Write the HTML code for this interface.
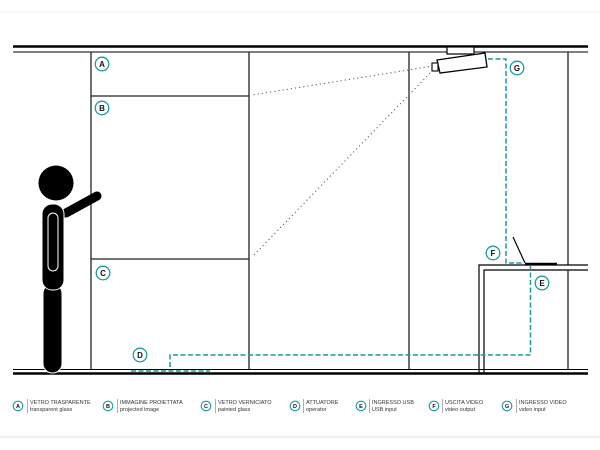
<!DOCTYPE html>
<html><head><meta charset="utf-8"><style>
html,body{margin:0;padding:0;background:#fff;}
svg{display:block;}
text{font-family:"Liberation Sans",sans-serif;}
</style></head><body>
<svg width="600" height="450" viewBox="0 0 600 450" xmlns="http://www.w3.org/2000/svg">
<rect width="600" height="450" fill="#fff"/>
<line x1="0" y1="12" x2="600" y2="12" stroke="#eee" stroke-width="1"/>
<line x1="0" y1="437" x2="600" y2="437" stroke="#ddd" stroke-width="1"/>
<!-- ceiling -->
<line x1="13" y1="46.5" x2="588" y2="46.5" stroke="#000" stroke-width="2.5"/>
<line x1="13" y1="52" x2="588" y2="52" stroke="#000" stroke-width="1"/>
<!-- floor -->
<line x1="13" y1="369.5" x2="588" y2="369.5" stroke="#000" stroke-width="1"/>
<line x1="13" y1="373.5" x2="588" y2="373.5" stroke="#000" stroke-width="2.5"/>
<!-- walls -->
<g stroke="#222" stroke-width="1.3" fill="none">
<line x1="91" y1="52" x2="91" y2="369"/>
<line x1="249" y1="52" x2="249" y2="369"/>
<line x1="409" y1="52" x2="409" y2="369"/>
<line x1="568" y1="52" x2="568" y2="265"/>
<line x1="568" y1="270" x2="568" y2="369"/>
<line x1="91" y1="96" x2="249" y2="96"/>
<line x1="91" y1="259" x2="249" y2="259"/>
</g>
<!-- dotted projection -->
<g stroke="#555" stroke-width="1" stroke-dasharray="1.2,3" fill="none">
<line x1="433" y1="66" x2="252" y2="95"/>
<line x1="433" y1="70" x2="252" y2="257"/>
</g>
<!-- projector -->
<rect x="447" y="47" width="27" height="7" fill="#fff" stroke="#000" stroke-width="1.2"/>
<polygon points="437,60 485,53 487,67 440,73" fill="#fff" stroke="#000" stroke-width="1.3"/>
<rect x="432" y="63" width="6" height="8" fill="#fff" stroke="#000" stroke-width="1.1"/>
<!-- desk -->
<g stroke="#000" fill="none">
<polyline points="588,265 479,265 479,373" stroke-width="1.2"/>
<polyline points="588,270 484,270 484,373" stroke-width="1.2"/>
</g>
<line x1="525" y1="264" x2="557" y2="264" stroke="#000" stroke-width="2.5"/>
<line x1="513" y1="237" x2="525" y2="263" stroke="#000" stroke-width="1.2"/>
<!-- cyan cables -->
<g stroke="#1a9ba0" stroke-width="1.5" fill="none" stroke-dasharray="5,2.5">
<polyline points="488,59 506,59 506,263 523,263"/>
<polyline points="530.5,265 530.5,355 170,355 170,371"/>
<line x1="131" y1="371" x2="210" y2="371"/>
</g>
<!-- person -->
<circle cx="56" cy="183" r="17.5" fill="#000"/>
<line x1="66" y1="213" x2="97" y2="196" stroke="#000" stroke-width="9" stroke-linecap="round"/>
<rect x="43" y="284" width="19" height="89" rx="9.5" fill="#000" stroke="#fff" stroke-width="1"/>
<rect x="42" y="204" width="22" height="86" rx="10" fill="#000" stroke="#fff" stroke-width="1"/>
<rect x="48" y="213" width="10" height="58" rx="5" fill="none" stroke="#fff" stroke-width="1"/>
<!-- diagram labels -->
<g font-size="8" font-weight="bold" text-anchor="middle" fill="#111">
<g fill="none" stroke="#1a9ba0" stroke-width="1.3">
<circle cx="102" cy="64" r="6.8"/><circle cx="102" cy="108" r="6.8"/><circle cx="103" cy="273" r="6.8"/>
<circle cx="140" cy="355" r="6.8"/><circle cx="542" cy="283" r="6.8"/><circle cx="493" cy="253" r="6.8"/>
<circle cx="517" cy="68" r="6.8"/>
</g>
<text x="102" y="67">A</text><text x="102" y="111">B</text><text x="103" y="276">C</text>
<text x="140" y="358">D</text><text x="542" y="286">E</text><text x="493" y="256">F</text><text x="517" y="71">G</text>
</g>
<!-- legend -->
<g font-size="5.5" fill="#333">
<g fill="none" stroke="#1a9ba0" stroke-width="1.1">
<circle cx="18" cy="406" r="4.8"/><circle cx="108" cy="406" r="4.8"/><circle cx="206" cy="406" r="4.8"/>
<circle cx="295" cy="406" r="4.8"/><circle cx="361" cy="406" r="4.8"/><circle cx="434" cy="406" r="4.8"/><circle cx="507" cy="406" r="4.8"/>
</g>
<g font-size="5.5" font-weight="bold" text-anchor="middle" fill="#111">
<text x="18" y="408">A</text><text x="108" y="408">B</text><text x="206" y="408">C</text><text x="295" y="408">D</text><text x="361" y="408">E</text><text x="434" y="408">F</text><text x="507" y="408">G</text>
</g>
<g stroke="#777" stroke-width="0.6">
<line x1="27.5" y1="399" x2="27.5" y2="413"/><line x1="117.5" y1="399" x2="117.5" y2="413"/><line x1="215.5" y1="399" x2="215.5" y2="413"/>
<line x1="303.5" y1="399" x2="303.5" y2="413"/><line x1="369.5" y1="399" x2="369.5" y2="413"/><line x1="442.5" y1="399" x2="442.5" y2="413"/><line x1="516.5" y1="399" x2="516.5" y2="413"/>
</g>
<text x="30" y="404">VETRO TRASPARENTE</text><text x="30" y="411">transparent glass</text>
<text x="120" y="404">IMMAGINE PROIETTATA</text><text x="120" y="411">projected image</text>
<text x="218" y="404">VETRO VERNICIATO</text><text x="218" y="411">painted glass</text>
<text x="306" y="404">ATTUATORE</text><text x="306" y="411">operator</text>
<text x="372" y="404">INGRESSO USB</text><text x="372" y="411">USB input</text>
<text x="445" y="404">USCITA VIDEO</text><text x="445" y="411">video output</text>
<text x="519" y="404">INGRESSO VIDEO</text><text x="519" y="411">video input</text>
</g>
</svg>
</body></html>
